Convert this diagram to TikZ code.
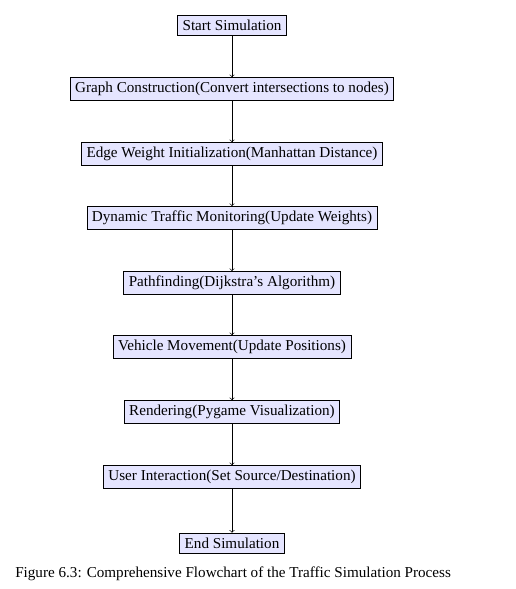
\documentclass[tikz,border=0pt]{standalone}
\usepackage{fontspec}
\setmainfont{Liberation Serif}
\begin{document}
\begin{tikzpicture}[x=0.72pt,y=-0.72pt,
  stepbox/.style={draw=black, fill=blue!10, inner xsep=3.6pt, inner ysep=3.3pt, font=\fontsize{10.9}{13}\selectfont, line width=0.5pt},
  flow/.style={->, line width=0.45pt}]
\useasboundingbox (0,0) rectangle (515,589);
\node[stepbox] (n1) at (232,25) {Start Simulation};
\node[stepbox] (n2) at (232,89) {Graph Construction(Convert intersections to nodes)};
\node[stepbox] (n3) at (232,154) {Edge Weight Initialization(Manhattan Distance)};
\node[stepbox] (n4) at (232,218) {Dynamic Traffic Monitoring(Update Weights)};
\node[stepbox] (n5) at (232,283) {Pathfinding(Dijkstra's Algorithm)};
\node[stepbox] (n6) at (232,347) {Vehicle Movement(Update Positions)};
\node[stepbox] (n7) at (232,412) {Rendering(Pygame Visualization)};
\node[stepbox] (n8) at (232,477) {User Interaction(Set Source/Destination)};
\node[stepbox] (n9) at (232,543) {End Simulation};
\foreach \a/\b in {n1/n2,n2/n3,n3/n4,n4/n5,n5/n6,n6/n7,n7/n8,n8/n9}
  \draw[flow] (\a) -- (\b);
\node[anchor=west, font=\fontsize{10.9}{13}\selectfont, inner sep=0pt] (cap) at (15,574) {Figure 6.3: Comprehensive Flowchart of the Traffic Simulation Process};
\end{tikzpicture}
\end{document}
